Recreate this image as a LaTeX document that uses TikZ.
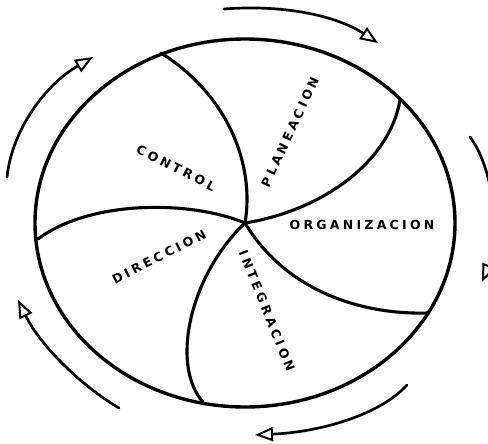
\documentclass[tikz,border=0pt]{standalone}
\usepackage{fontspec}
\newfontfamily\lblfont[LetterSpace=26]{DejaVu Sans}
\usetikzlibrary{arrows.meta}

\begin{document}
\begin{tikzpicture}[x=1pt,y=-1pt,line cap=round,
  rim/.style={line width=3.4pt},
  spoke/.style={line width=3.1pt},
  cyc/.style={line width=2.7pt,-{Triangle[open,length=18pt,width=14pt,line width=2pt]}},
  lbl/.style={font=\lblfont\bfseries\fontsize{12.5}{14}\selectfont,inner sep=0pt}]
  \clip (0,0) rectangle (488,444);
  % wheel
  \coordinate (ctr) at (245,223);
  \draw[rim] (ctr) ellipse [x radius=210, y radius=184];
  % spokes
  \coordinate (pC) at (161,53);   \coordinate (pP) at (400,100);
  \coordinate (pO) at (428,313);  \coordinate (pI) at (203,402);
  \coordinate (pD) at (38,239);
  \draw[spoke] (ctr) .. controls (255,165) and (228,95) .. (pC);
  \draw[spoke] (ctr) .. controls (325,210) and (390,160) .. (pP);
  \draw[spoke] (ctr) .. controls (285,290) and (360,315) .. (pO);
  \draw[spoke] (ctr) .. controls (190,275) and (170,365) .. (pI);
  \draw[spoke] (ctr) .. controls (190,200) and (90,200) .. (pD);
  % labels
  \node[lbl,rotate=-27] (control) at (176,168) {CONTROL};
  \node[lbl,rotate=65] (planea) at (290,132) {PLANEACION};
  \node[lbl] (organiz) at (362,225) {ORGANIZACION};
  \node[lbl,rotate=27] (direcc) at (159,257) {DIRECCION};
  \node[lbl,rotate=-68] (integr) at (267,311) {INTEGRACION};
  % cycle arrows round the wheel
  \coordinate (a1) at (224,9);   \coordinate (b1) at (378,43);
  \coordinate (a2) at (470,137); \coordinate (b2) at (482,282);
  \coordinate (a3) at (407,385); \coordinate (b3) at (255,435);
  \coordinate (a4) at (119,408); \coordinate (b4) at (18,300);
  \coordinate (a5) at (7,177);   \coordinate (b5) at (93,57);
  \draw[cyc] (a1) .. controls (290,4) and (340,18) .. (b1);
  \draw[cyc] (a2) .. controls (495,170) and (500,240) .. (b2);
  \draw[cyc] (a3) .. controls (380,415) and (320,432) .. (b3);
  \draw[cyc] (a4) .. controls (80,385) and (40,345) .. (b4);
  \draw[cyc] (a5) .. controls (12,130) and (45,85) .. (b5);
\end{tikzpicture}
\end{document}
